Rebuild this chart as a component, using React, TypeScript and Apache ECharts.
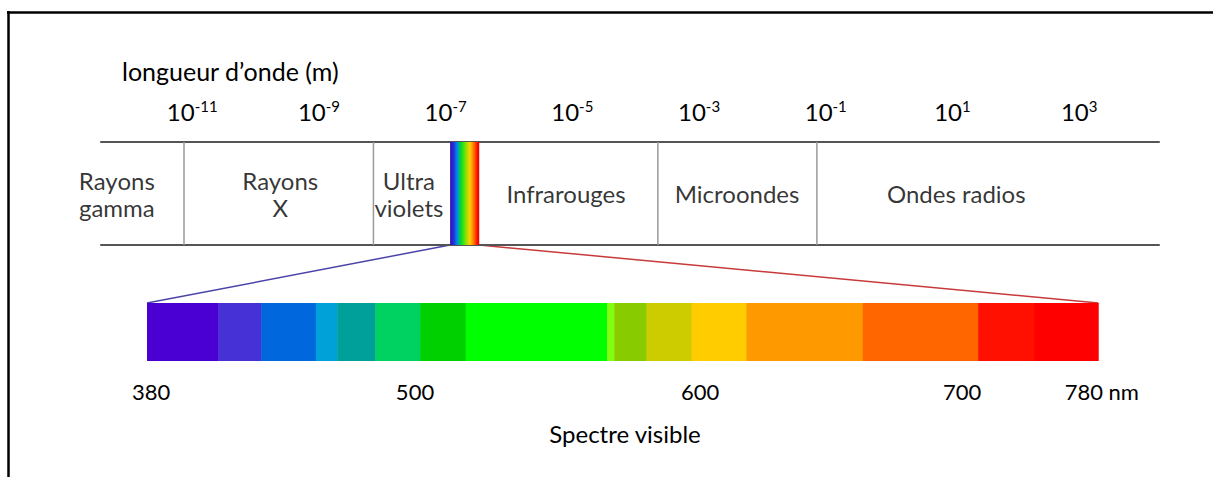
import { useEffect, useRef } from "react";
import * as echarts from "echarts";

// ---- Upper band: wavelength scale (exponent of 10, in metres) ----
const wavelengthExponents = [-11, -9, -7, -5, -3, -1, 1, 3];
const topAxisMin = -12.44;
const topAxisMax = 4.26;
const bandNames = ["Rayons\ngamma", "Rayons\nX", "Ultra\nviolets", "Infrarouges", "Microondes", "Ondes radios"];
const bandLabelCenters = [-12.19, -9.61, -7.58, -5.1, -2.4, 1.06];
const bandSeparators = [-11.13, -8.14, -3.65, -1.14];
const visibleBandRange = [-6.93, -6.47];

// ---- Lower bar: visible spectrum (nm) ----
const visibleBounds = [380, 410, 428, 451, 460, 476, 495, 514, 573.5, 576.5, 590, 609, 632, 681, 729.5, 753, 780];
const visibleColors = [
  "#4a00d2", "#4631d6", "#0068dc", "#00a0d8", "#00a09a", "#00d262",
  "#00d000", "#00ff00", "#80ff10", "#88cc00", "#cccc00", "#ffcc00",
  "#ff9900", "#ff6600", "#ff1000", "#ff0000",
];
const visibleTickLabels = ["380", "500", "600", "700", "780 nm"];
const visibleTickPositions = [381.7, 492.7, 612.6, 722.8, 781.5];

const FONT = "Lato";

export default function App() {
  const ref = useRef<HTMLDivElement>(null);

  useEffect(() => {
    if (!ref.current) return;
    const chart = echarts.init(ref.current, undefined, { renderer: "svg" });

    const segments = visibleColors.map((c, i) => [visibleBounds[i], visibleBounds[i + 1], i]);

    const option: any = {
      animation: false,
      backgroundColor: "#ffffff",
      title: {
        text: "longueur d\u2019onde (m)",
        left: 117,
        top: 53,
        textStyle: { fontFamily: FONT, fontSize: 25, fontWeight: "normal", color: "#000" },
      },
      grid: [
        { left: 101, right: 54, top: 142, height: 103 },
        { left: 147, right: 110, top: 303, height: 58 },
      ],
      xAxis: [
        {
          gridIndex: 0,
          type: "value",
          position: "top",
          min: topAxisMin,
          max: topAxisMax,
          axisLine: { show: true, onZero: false, lineStyle: { color: "#555", width: 2 } },
          axisTick: { show: false },
          splitLine: { show: false },
          axisLabel: {
            customValues: wavelengthExponents,
            margin: 18,
            formatter: (v: number) => `{b|10}{s|${Math.round(v)}}`,
            rich: {
              b: { fontFamily: FONT, fontSize: 24, color: "#000", lineHeight: 26 },
              s: { fontFamily: FONT, fontSize: 15, color: "#000", lineHeight: 15, verticalAlign: "top" },
            },
          },
        },
        {
          gridIndex: 0,
          type: "value",
          position: "bottom",
          min: topAxisMin,
          max: topAxisMax,
          axisLine: { show: true, onZero: false, lineStyle: { color: "#555", width: 2 } },
          axisTick: { show: false },
          splitLine: { show: false },
          axisLabel: { show: false },
        },
        {
          gridIndex: 1,
          type: "value",
          min: visibleBounds[0],
          max: 782,
          axisLine: { show: false },
          axisTick: { show: false },
          splitLine: { show: false },
          axisLabel: {
            customValues: visibleTickPositions,
            margin: 19,
            fontFamily: FONT,
            fontSize: 22,
            color: "#000",
            formatter: (v: number) => {
              let best = 0;
              visibleTickPositions.forEach((p, i) => {
                if (Math.abs(p - v) < Math.abs(visibleTickPositions[best] - v)) best = i;
              });
              return visibleTickLabels[best];
            },
          },
          name: "Spectre visible",
          nameLocation: "middle",
          nameGap: 60,
          nameTextStyle: { fontFamily: FONT, fontSize: 24, color: "#000" },
        },
      ],
      yAxis: [
        { gridIndex: 0, type: "value", min: 0, max: 1, show: false },
        { gridIndex: 1, type: "value", min: 0, max: 1, show: false },
      ],
      series: [
        {
          type: "custom",
          xAxisIndex: 0,
          yAxisIndex: 0,
          silent: true,
          data: bandSeparators.map((v) => [v]),
          renderItem: (params: any, api: any) => {
            const p0 = api.coord([api.value(0), 0]);
            const p1 = api.coord([api.value(0), 1]);
            return {
              type: "line",
              shape: { x1: p0[0], y1: p0[1], x2: p1[0], y2: p1[1] },
              style: { stroke: "#9a9a9a", lineWidth: 1.5 },
            };
          },
        },
        {
          type: "custom",
          xAxisIndex: 0,
          yAxisIndex: 0,
          silent: true,
          data: [visibleBandRange],
          renderItem: (params: any, api: any) => {
            const a = api.coord([api.value(0), 1]);
            const b = api.coord([api.value(1), 0]);
            return {
              type: "rect",
              shape: { x: a[0], y: a[1], width: b[0] - a[0], height: b[1] - a[1] },
              style: {
                fill: new echarts.graphic.LinearGradient(0, 0, 1, 0, [
                  { offset: 0, color: "#3a10b0" },
                  { offset: 0.12, color: "#2030e0" },
                  { offset: 0.25, color: "#0090e0" },
                  { offset: 0.38, color: "#00e020" },
                  { offset: 0.55, color: "#90e000" },
                  { offset: 0.68, color: "#ffd000" },
                  { offset: 0.82, color: "#ff7000" },
                  { offset: 0.93, color: "#ff1000" },
                  { offset: 1, color: "#e00000" },
                ]),
              },
            };
          },
        },
        {
          type: "scatter",
          xAxisIndex: 0,
          yAxisIndex: 0,
          silent: true,
          symbolSize: 0,
          data: bandLabelCenters.map((v, i) => ({ value: [v, 0.5], name: bandNames[i] })),
          label: {
            show: true,
            position: "inside",
            formatter: (p: any) => p.name,
            fontFamily: FONT,
            fontSize: 24,
            lineHeight: 27,
            color: "#000",
            align: "center",
          },
        },
        {
          type: "custom",
          xAxisIndex: 2,
          yAxisIndex: 1,
          silent: true,
          data: segments,
          renderItem: (params: any, api: any) => {
            const a = api.coord([api.value(0), 1]);
            const b = api.coord([api.value(1), 0]);
            return {
              type: "rect",
              shape: { x: a[0], y: a[1], width: b[0] - a[0] + 0.5, height: b[1] - a[1] },
              style: { fill: visibleColors[api.value(2)] },
            };
          },
        },
      ],
    };

    chart.setOption(option);

    const topLeft = chart.convertToPixel({ gridIndex: 0 }, [visibleBandRange[0], 0]) as number[];
    const topRight = chart.convertToPixel({ gridIndex: 0 }, [visibleBandRange[1], 0]) as number[];
    const barLeft = chart.convertToPixel({ gridIndex: 1 }, [visibleBounds[0], 1]) as number[];
    const barRight = chart.convertToPixel({ gridIndex: 1 }, [visibleBounds[visibleBounds.length - 1], 1]) as number[];

    chart.setOption({
      graphic: [
        {
          type: "line",
          silent: true,
          shape: { x1: topLeft[0], y1: topLeft[1], x2: barLeft[0], y2: barLeft[1] },
          style: { stroke: "#4a44a8", lineWidth: 1.5 },
        },
        {
          type: "line",
          silent: true,
          shape: { x1: topRight[0], y1: topRight[1], x2: barRight[0], y2: barRight[1] },
          style: { stroke: "#c83a3a", lineWidth: 1.5 },
        },
        {
          type: "line",
          silent: true,
          shape: { x1: 7, y1: 12.5, x2: 1213, y2: 12.5 },
          style: { stroke: "#000", lineWidth: 2.5 },
        },
        {
          type: "line",
          silent: true,
          shape: { x1: 8.5, y1: 11, x2: 8.5, y2: 477 },
          style: { stroke: "#000", lineWidth: 2.5 },
        },
      ],
    });

    return () => chart.dispose();
  }, []);

  return (
    <div
      ref={ref}
      style={{ position: "fixed", left: 0, top: 0, width: 1213, height: 477, background: "#fff" }}
    />
  );
}
